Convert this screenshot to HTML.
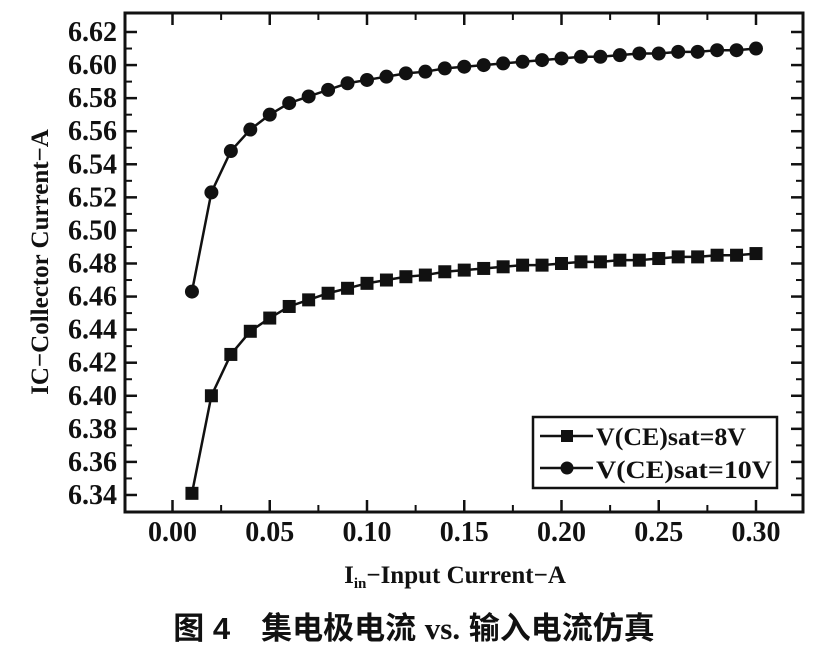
<!DOCTYPE html>
<html><head><meta charset="utf-8"><style>
body{margin:0;background:#fff}
svg{display:block}
text{font-family:"Liberation Serif","Noto Serif CJK SC",serif;fill:#111}
</style></head><body>
<svg id="s" width="826" height="652" xmlns="http://www.w3.org/2000/svg">
<rect x="125" y="13" width="678" height="499" fill="none" stroke="#111" stroke-width="3"/>
<g id="g"></g>
<text x="0" y="0" transform="translate(48,262) rotate(-90)" text-anchor="middle" font-size="25" font-weight="bold">IC−Collector Current−A</text>
<text x="455" y="583" text-anchor="middle" font-size="25" font-weight="bold">I<tspan font-size="15" dy="5">in</tspan><tspan dy="-5">−Input Current−A</tspan></text>
<text x="414" y="639" text-anchor="middle" font-size="31" font-weight="bold" style='font-family:"Liberation Sans","Noto Sans CJK SC",sans-serif'>图 4　集电极电流 <tspan style='font-family:"Liberation Serif",serif'>vs.</tspan> 输入电流仿真</text>
<rect x="533" y="417" width="244" height="71" fill="#fff" stroke="#111" stroke-width="2.5"/>
<line x1="540" y1="436" x2="593" y2="436" stroke="#111" stroke-width="2.5"/>
<rect x="561" y="430" width="12" height="12" fill="#111"/>
<line x1="540" y1="468" x2="593" y2="468" stroke="#111" stroke-width="2.5"/>
<circle cx="567" cy="468" r="6.5" fill="#111"/>
<text x="596" y="445" font-size="25" font-weight="bold" textLength="150" lengthAdjust="spacingAndGlyphs">V(CE)sat=8V</text>
<text x="596" y="478" font-size="25" font-weight="bold" textLength="176" lengthAdjust="spacingAndGlyphs">V(CE)sat=10V</text>
</svg>
<script>
const g=document.getElementById('g');let h='';
const X=v=>172.5+v*1945, Y=v=>32+(6.62-v)/0.02*33.07;
for(let i=0;i<=14;i++){const v=6.34+i*0.02,y=Y(v);
h+=`<line x1="125" y1="${y}" x2="137" y2="${y}" stroke="#111" stroke-width="2.5"/><line x1="803" y1="${y}" x2="791" y2="${y}" stroke="#111" stroke-width="2.5"/>`;
h+=`<text x="117" y="${y+9}" text-anchor="end" font-size="28" font-weight="bold">${v.toFixed(2)}</text>`;
if(i<14){const y2=Y(v+0.01);h+=`<line x1="125" y1="${y2}" x2="132" y2="${y2}" stroke="#111" stroke-width="2"/><line x1="803" y1="${y2}" x2="796" y2="${y2}" stroke="#111" stroke-width="2"/>`;}}
for(let i=0;i<=6;i++){const v=i*0.05,x=X(v);
h+=`<line x1="${x}" y1="512" x2="${x}" y2="500" stroke="#111" stroke-width="2.5"/><line x1="${x}" y1="13" x2="${x}" y2="25" stroke="#111" stroke-width="2.5"/>`;
h+=`<text x="${x}" y="541" text-anchor="middle" font-size="28" font-weight="bold">${v.toFixed(2)}</text>`;
if(i<6){const x2=X(v+0.025);h+=`<line x1="${x2}" y1="512" x2="${x2}" y2="505" stroke="#111" stroke-width="2"/><line x1="${x2}" y1="13" x2="${x2}" y2="20" stroke="#111" stroke-width="2"/>`;}}
const a=[6.463,6.523,6.548,6.561,6.570,6.577,6.581,6.585,6.589,6.591,6.593,6.595,6.596,6.598,6.599,6.600,6.601,6.602,6.603,6.604,6.605,6.605,6.606,6.607,6.607,6.608,6.608,6.609,6.609,6.610];
const b=[6.341,6.400,6.425,6.439,6.447,6.454,6.458,6.462,6.465,6.468,6.470,6.472,6.473,6.475,6.476,6.477,6.478,6.479,6.479,6.480,6.481,6.481,6.482,6.482,6.483,6.484,6.484,6.485,6.485,6.486];
const pa=a.map((v,i)=>X((i+1)*0.01)+','+Y(v)).join(' '),pb=b.map((v,i)=>X((i+1)*0.01)+','+Y(v)).join(' ');
h+=`<polyline points="${pa}" fill="none" stroke="#111" stroke-width="2.5"/><polyline points="${pb}" fill="none" stroke="#111" stroke-width="2.5"/>`;
a.forEach((v,i)=>h+=`<circle cx="${X((i+1)*0.01)}" cy="${Y(v)}" r="7" fill="#111"/>`);
b.forEach((v,i)=>h+=`<rect x="${X((i+1)*0.01)-6.5}" y="${Y(v)-6.5}" width="13" height="13" fill="#111"/>`);
g.innerHTML=h;
</script>
</body></html>
